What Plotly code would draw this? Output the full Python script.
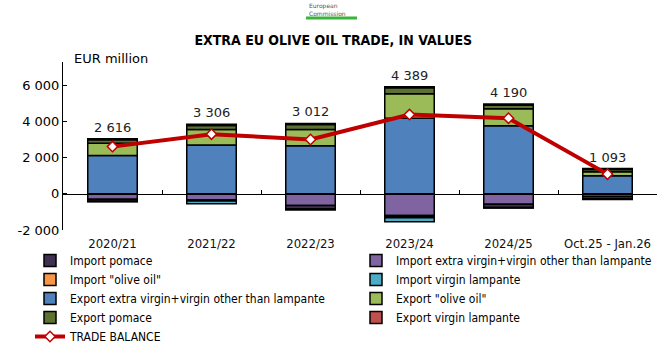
import plotly.graph_objects as go

categories = ["2020/21", "2021/22", "2022/23", "2023/24", "2024/25", "Oct.25 - Jan.26"]

export_extra_virgin = [2120, 2700, 2670, 4180, 3770, 1010]
export_olive_oil = [680, 870, 900, 1360, 940, 220]
export_pomace = [190, 220, 270, 330, 200, 120]
export_virgin_lampante = [60, 60, 60, 60, 60, 50]

import_extra_virgin = [-300, -340, -640, -1200, -580, -150]
import_pomace = [-110, -40, -180, -80, -170, -130]
import_olive_oil = [-10, -14, -28, -41, -20, -17]
import_virgin_lampante = [-14, -150, -40, -220, -10, -10]

trade_balance = [2616, 3306, 3012, 4389, 4190, 1093]

y_tick_values = [-2000, 0, 2000, 4000, 6000]
y_tick_labels = ["-2 000", "0", "2 000", "4 000", "6 000"]

NARROW = "Liberation Sans Narrow, Arial Narrow, DejaVu Sans Condensed, sans-serif"

series = [
    # name, values, color, legend column, legendrank
    ("Export extra virgin+virgin other than lampante", export_extra_virgin, "#4F81BD", "legend", 3),
    ("Export \"olive oil\"", export_olive_oil, "#9BBB59", "legend2", 3),
    ("Export pomace", export_pomace, "#5C7230", "legend", 4),
    ("Export virgin lampante", export_virgin_lampante, "#C0504D", "legend2", 4),
    ("Import extra virgin+virgin other than lampante", import_extra_virgin, "#8064A2", "legend2", 1),
    ("Import pomace", import_pomace, "#403152", "legend", 1),
    ("Import \"olive oil\"", import_olive_oil, "#F79646", "legend", 2),
    ("Import virgin lampante", import_virgin_lampante, "#4BACC6", "legend2", 2),
]

fig = go.Figure()
for name, vals, color, leg, rank in series:
    fig.add_trace(go.Bar(
        x=categories, y=vals, name=name, legend=leg, legendrank=rank,
        marker=dict(color=color, line=dict(color="black", width=1.5)),
        width=0.5,
    ))

fig.add_trace(go.Scatter(
    x=categories, y=trade_balance, name="TRADE BALANCE", legend="legend", legendrank=5,
    mode="lines+markers",
    line=dict(color="#C00000", width=4),
    marker=dict(symbol="diamond", size=8, color="white",
                line=dict(color="#C00000", width=1.5)),
))

export_totals = [a + b + c + d for a, b, c, d in zip(export_extra_virgin, export_olive_oil,
                                                    export_pomace, export_virgin_lampante)]
for cat, top, bal in zip(categories, export_totals, trade_balance):
    fig.add_annotation(x=cat, y=top, yanchor="bottom", yshift=2, showarrow=False,
                       text=f"{bal:,}".replace(",", " "),
                       font=dict(family="DejaVu Sans, sans-serif", size=13, color="#222"))

ymin, ymax = -2000, 7300
zero_pos = (0 - ymin) / (ymax - ymin)

legend_common = dict(orientation="v", xref="container", yref="container",
                     xanchor="left", y=1 - 246 / 345, yanchor="top",
                     font=dict(family=NARROW, size=12, color="black"),
                     traceorder="normal", itemwidth=30, bgcolor="rgba(0,0,0,0)")

fig.update_layout(
    width=660, height=345,
    margin=dict(l=63, r=3, t=62, b=115, autoexpand=False),
    paper_bgcolor="white", plot_bgcolor="white",
    barmode="relative", bargap=0.5,
    title=dict(text="<b>EXTRA EU OLIVE OIL TRADE, IN VALUES</b>",
               x=0.505, xanchor="center", y=1 - 40 / 345, yanchor="middle",
               font=dict(family=NARROW, size=14, color="black")),
    xaxis=dict(type="category", categoryorder="array", categoryarray=categories,
               range=[-0.5, 5.5], showline=False, ticks="", showgrid=False,
               zeroline=False, ticklabelstandoff=4,
               tickfont=dict(family=NARROW, size=13, color="#111")),
    xaxis2=dict(type="category", categoryorder="array", categoryarray=categories,
                overlaying="x", anchor="free", position=zero_pos, side="bottom",
                range=[-0.5, 5.5], showline=True, linecolor="black", linewidth=1,
                ticks="inside", tickson="boundaries", ticklen=4, tickcolor="black",
                showticklabels=False, showgrid=False, zeroline=False),
    yaxis=dict(range=[ymin, ymax], tickvals=y_tick_values, ticktext=y_tick_labels,
               showline=True, linecolor="black", linewidth=1, ticks="inside",
               ticklen=4, tickcolor="black", showgrid=False, zeroline=False,
               tickfont=dict(family="DejaVu Sans, sans-serif", size=13, color="black")),
    legend=dict(x=30 / 660, **legend_common),
    legend2=dict(x=356 / 660, **legend_common),
    showlegend=True,
)

# invisible trace on xaxis2 so the zero-line axis is drawn
fig.add_trace(go.Scatter(x=categories, y=[None] * len(categories), xaxis="x2",
                         showlegend=False, hoverinfo="skip"))

fig.add_annotation(text="EUR million", xref="paper", yref="paper",
                   x=(72 - 63) / 594, y=1 + 4 / 168, xanchor="left", yanchor="middle",
                   showarrow=False,
                   font=dict(family="DejaVu Sans, sans-serif", size=13, color="black"))

fig.add_annotation(text="European<br>Commission", xref="paper", yref="paper",
                   x=(308 - 63) / 594, y=(230 - 1) / 168, xanchor="left", yanchor="top",
                   showarrow=False, align="left", borderpad=0,
                   font=dict(family="DejaVu Sans, sans-serif", size=6, color="#555"))
fig.add_shape(type="line", xref="paper", yref="paper",
              x0=(306 - 63) / 594, x1=(357 - 63) / 594,
              y0=(230 - 18) / 168, y1=(230 - 18) / 168,
              line=dict(color="#3CB43C", width=3))

fig.write_html("out.html")
